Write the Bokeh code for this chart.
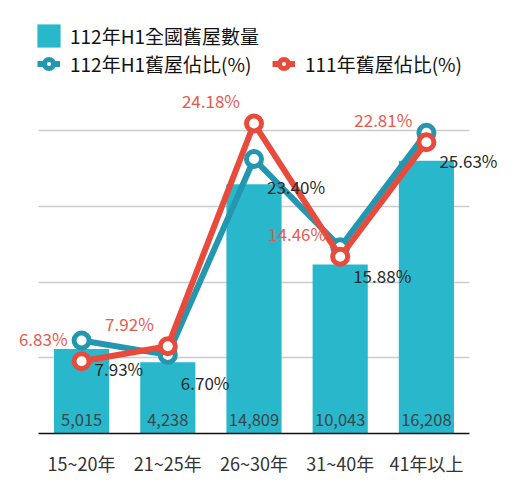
from bokeh.plotting import figure
from bokeh.models import (ColumnDataSource, Range1d, FixedTicker,
                          LabelSet, Legend, LegendItem)
from bokeh.core.properties import value
from bokeh.embed import file_html
from bokeh.resources import INLINE

categories = ["15~20年", "21~25年", "26~30年", "31~40年", "41年以上"]
counts = [5015, 4238, 14809, 10043, 16208]
share_112h1 = [7.93, 6.70, 23.40, 15.88, 25.63]
share_111 = [6.83, 7.92, 24.18, 14.46, 22.81]
grid_ticks = [4500, 9000, 13500, 18000]

BAR = "#29b8cb"
TEAL = "#2497b0"
RED = "#e84a3b"
RED_TXT = "#e85a4e"
DARK = "#2a2a2a"
FONT = "Noto Sans CJK TC"

src = ColumnDataSource(dict(
    cat=categories,
    count=counts,
    count_txt=["{:,}".format(c) for c in counts],
    s112=share_112h1,
    s112_txt=["{:.2f}%".format(v) for v in share_112h1],
    s111=share_111,
    s111_txt=["{:.2f}%".format(v) for v in share_111],
))

p = figure(x_range=categories, y_range=Range1d(0, 25723),
           width=513, height=492,
           min_border_left=8, min_border_right=14,
           min_border_top=0, min_border_bottom=59,
           toolbar_location=None, tools="",
           output_backend="svg")
# pad the frame (per side) so the value labels at both ends are not cut off
p.x_range.range_padding = 0.348
p.x_range.range_padding_units = "absolute"
p.outline_line_color = None

# separate scales for the two share series
p.extra_y_ranges = {"s112": Range1d(0, 36.91),
                    "s111": Range1d(1.555, 33.16)}

p.yaxis.visible = False
p.yaxis.ticker = FixedTicker(ticks=grid_ticks)
p.ygrid.grid_line_color = "#cccccc"
p.ygrid.grid_line_width = 1.5
p.ygrid.cross_bounds = (0, len(categories))
p.xgrid.visible = False

xa = p.xaxis[0]
xa.bounds = (0, len(categories))
xa.axis_line_color = "#111111"
xa.axis_line_width = 1.5
xa.major_tick_line_color = None
xa.minor_tick_line_color = None
xa.major_label_standoff = 10
xa.major_label_text_font = FONT
xa.major_label_text_font_size = "18px"
xa.major_label_text_color = "#333333"

bars = p.vbar(x="cat", top="count", width=0.64, source=src,
              fill_color=BAR, line_color=None)

teal_line = p.line(x="cat", y="s112", source=src, y_range_name="s112",
                   line_color=TEAL, line_width=6)
teal_dot = p.scatter(x="cat", y="s112", source=src, y_range_name="s112",
                     size=15, fill_color="white", line_color=TEAL,
                     line_width=5)
red_line = p.line(x="cat", y="s111", source=src, y_range_name="s111",
                  line_color=RED, line_width=6)
red_dot = p.scatter(x="cat", y="s111", source=src, y_range_name="s111",
                    size=15, fill_color="white", line_color=RED,
                    line_width=5)

p.add_layout(LabelSet(x="cat", y=0, text="count_txt", source=src,
                      y_offset=14, text_align="center", text_baseline="middle",
                      text_font=value(FONT), text_font_size="16.5px",
                      text_color="#37474c"))
p.add_layout(LabelSet(x="cat", y="s112", text="s112_txt", source=src,
                      y_range_name="s112", x_offset=13, y_offset=-28,
                      text_align="left", text_baseline="middle",
                      text_font=value(FONT), text_font_size="17px",
                      text_color=DARK))
p.add_layout(LabelSet(x="cat", y="s111", text="s111_txt", source=src,
                      y_range_name="s111", x_offset=-14, y_offset=23,
                      text_align="right", text_baseline="middle",
                      text_font=value(FONT), text_font_size="17px",
                      text_color=RED_TXT))

leg_text = dict(border_line_color=None, background_fill_alpha=0,
                padding=0, margin=0, spacing=0,
                label_text_font=FONT, label_text_font_size="19px",
                label_text_color="#111111")

leg1 = Legend(items=[LegendItem(label="112年H1全國舊屋數量", renderers=[bars])],
              location=(26, 383), glyph_width=29, glyph_height=29,
              label_standoff=7, label_height=29, **leg_text)
leg2 = Legend(items=[LegendItem(label="112年H1舊屋佔比(%)",
                                renderers=[teal_line, teal_dot]),
                     LegendItem(label="111年舊屋佔比(%)",
                                renderers=[red_line, red_dot])],
              location=(29, 356), orientation="horizontal",
              glyph_width=23, glyph_height=23, label_standoff=10,
              label_height=23, label_width=202, **leg_text)
p.add_layout(leg1, "center")
p.add_layout(leg2, "center")

open("out.html", "w").write(file_html(p, INLINE))
